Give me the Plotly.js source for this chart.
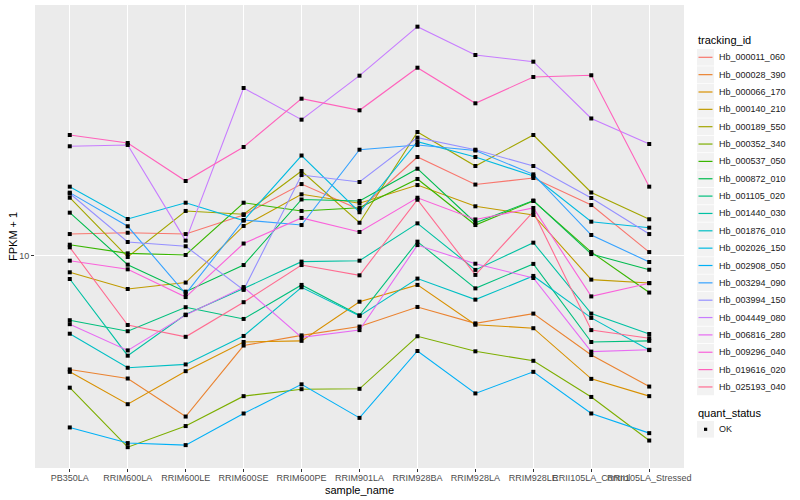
<!DOCTYPE html>
<html><head><meta charset="utf-8">
<script src="https://cdn.plot.ly/plotly-3.0.1.min.js"></script>
<style>html,body{margin:0;padding:0;background:#fff}#chart{width:800px;height:500px}</style>
</head><body><div id="chart"></div>
<script>
// ---- data ----
const samples = ['PB350LA','RRIM600LA','RRIM600LE','RRIM600SE','RRIM600PE','RRIM901LA','RRIM928BA','RRIM928LA','RRIM928LE','RRII105LA_Control','RRII105LA_Stressed'];
const trackingIds = ['Hb_000011_060','Hb_000028_390','Hb_000066_170','Hb_000140_210','Hb_000189_550','Hb_000352_340','Hb_000537_050','Hb_000872_010','Hb_001105_020','Hb_001440_030','Hb_001876_010','Hb_002026_150','Hb_002908_050','Hb_003294_090','Hb_003994_150','Hb_004449_080','Hb_006816_280','Hb_009296_040','Hb_019616_020','Hb_025193_040'];
const colors = ['#F8766D','#EA8331','#D89000','#C09B00','#A3A500','#7CAE00','#39B600','#00BB4E','#00BF7D','#00C1A3','#00BFC4','#00BAE0','#00B0F6','#35A2FF','#9590FF','#C77CFF','#E76BF3','#FA62DB','#FF62BC','#FF6C91'];
const quantStatus = ['OK'];
const yTickVals = [10];

const s000011_060 = [11.26, 11.34, 11.26, 12.50, 14.81, 12.88, 17.18, 14.77, 15.31, 13.20, 10.20];
const s000028_390 = [5.36, 5.10, 4.14, 6.11, 6.46, 6.78, 7.55, 6.90, 7.28, 5.80, 4.88];
const s000066_170 = [5.29, 4.43, 5.31, 6.23, 6.27, 7.77, 8.52, 6.85, 6.72, 5.09, 4.63];
const s000140_210 = [9.13, 8.33, 8.63, 11.77, 14.00, 13.33, 14.73, 13.11, 12.50, 8.77, 8.61];
const s000189_550 = [13.74, 9.93, 12.78, 12.55, 15.91, 11.98, 19.70, 16.35, 19.38, 14.14, 12.21];
const s000352_340 = [4.85, 3.50, 3.93, 4.63, 4.81, 4.82, 6.43, 5.92, 5.62, 4.61, 3.63];
const s000537_050 = [10.62, 10.13, 10.04, 13.37, 12.78, 13.01, 15.23, 11.83, 13.50, 10.20, 8.17];
const s000872_010 = [12.66, 9.52, 8.21, 9.50, 13.61, 13.50, 16.11, 11.98, 13.53, 10.09, 9.26];
const s001105_020 = [7.02, 6.61, 7.54, 7.07, 8.52, 7.21, 10.80, 8.36, 9.56, 6.23, 6.27];
const s001440_030 = [8.80, 5.78, 7.24, 8.35, 9.68, 9.73, 11.94, 9.25, 10.74, 7.28, 6.51];
const s001876_010 = [6.52, 5.41, 5.51, 6.44, 8.41, 7.19, 8.82, 7.86, 8.95, 7.11, 5.96];
const s002026_150 = [14.60, 12.23, 13.37, 12.12, 17.32, 12.69, 18.68, 17.18, 15.48, 12.05, 11.66];
const s002908_050 = [3.90, 3.58, 3.54, 4.21, 4.94, 4.11, 5.93, 4.70, 5.29, 4.21, 3.78];
const s003294_090 = [14.13, 11.75, 8.11, 12.16, 11.83, 17.88, 18.35, 17.80, 15.62, 11.20, 9.66];
const s003994_150 = [14.06, 10.78, 10.53, 8.29, 15.56, 14.98, 19.10, 17.88, 16.35, 13.72, 11.26];
const s004449_080 = [18.22, 18.35, 10.86, 25.08, 21.08, 26.83, 35.10, 30.05, 28.97, 21.22, 18.45];
const s006816_280 = [6.87, 5.95, 7.22, 8.42, 6.39, 6.65, 10.60, 9.57, 8.85, 5.91, 5.97];
const s009296_040 = [9.73, 9.28, 7.97, 10.69, 12.30, 11.39, 13.74, 12.20, 12.99, 8.00, 8.60];
const s019616_020 = [19.38, 18.55, 15.06, 18.15, 23.65, 22.19, 28.03, 23.06, 26.64, 26.89, 14.60];
const s025193_040 = [10.47, 6.84, 6.41, 7.75, 9.50, 8.98, 13.59, 9.00, 12.73, 6.65, 6.36];

const seriesValues = [s000011_060, s000028_390, s000066_170, s000140_210, s000189_550, s000352_340, s000537_050, s000872_010, s001105_020, s001440_030, s001876_010, s002026_150, s002908_050, s003294_090, s003994_150, s004449_080, s006816_280, s009296_040, s019616_020, s025193_040];

// ---- geometry ----
const W = 800, H = 500, ML = 35, MR = 116, MT = 5, MB = 32;
const PW = W - ML - MR, PH = H - MT - MB;
const px = v => (v - ML) / PW;
const py = v => (H - MB - v) / PH;
const FONT = 'Liberation Sans, Arial, sans-serif';

const traces = [];
seriesValues.forEach((vals, i) => {
  traces.push({
    type: 'scatter', mode: 'lines', x: samples, y: vals, name: trackingIds[i],
    line: {color: colors[i], width: 1.1}, showlegend: false, hoverinfo: 'x+y+name'
  });
});
const allX = [], allY = [];
seriesValues.forEach(vals => vals.forEach((v, j) => { allX.push(samples[j]); allY.push(v); }));
traces.push({
  type: 'scatter', mode: 'markers', x: allX, y: allY, name: quantStatus[0],
  marker: {symbol: 'square', size: 4, color: '#000000'}, showlegend: false
});

// ---- custom ggplot-like legend and axis titles ----
const shapes = [], annotations = [];
annotations.push({xref:'paper', yref:'paper', x: 0.5, y: py(490), text:'sample_name', showarrow:false,
  xanchor:'center', yanchor:'middle', font:{family:FONT, size:11, color:'#000'}});
annotations.push({xref:'paper', yref:'paper', x: px(12.5), y: 0.5, text:'FPKM + 1', showarrow:false, textangle:-90,
  xanchor:'center', yanchor:'middle', font:{family:FONT, size:11, color:'#000'}});
annotations.push({xref:'paper', yref:'paper', x: px(696), y: py(40.5), text:'tracking_id', showarrow:false,
  xanchor:'left', yanchor:'middle', font:{family:FONT, size:11, color:'#000'}});
trackingIds.forEach((id, i) => {
  const yc = 57.3 + 17.35 * i;
  shapes.push({type:'rect', xref:'paper', yref:'paper', x0:px(697), x1:px(714), y0:py(yc-8.3), y1:py(yc+8.3),
    fillcolor:'#F2F2F2', line:{width:0}, layer:'above'});
  shapes.push({type:'line', xref:'paper', yref:'paper', x0:px(698.5), x1:px(712.5), y0:py(yc), y1:py(yc),
    line:{color:colors[i], width:1.2}, layer:'above'});
  annotations.push({xref:'paper', yref:'paper', x: px(716.5), y: py(yc), text:id, showarrow:false,
    xanchor:'left', yanchor:'middle', font:{family:FONT, size:9, color:'#1A1A1A'}});
});
annotations.push({xref:'paper', yref:'paper', x: px(696), y: py(412.5), text:'quant_status', showarrow:false,
  xanchor:'left', yanchor:'middle', font:{family:FONT, size:11, color:'#000'}});
shapes.push({type:'rect', xref:'paper', yref:'paper', x0:px(697), x1:px(714), y0:py(429.3-8.3), y1:py(429.3+8.3),
  fillcolor:'#F2F2F2', line:{width:0}, layer:'above'});
shapes.push({type:'rect', xref:'paper', yref:'paper', x0:px(704), x1:px(707.2), y0:py(427.7), y1:py(430.9),
  fillcolor:'#000', line:{width:0}, layer:'above'});
annotations.push({xref:'paper', yref:'paper', x: px(716.5), y: py(429.3), text:quantStatus[0], showarrow:false,
  xanchor:'left', yanchor:'middle', font:{family:FONT, size:9, color:'#1A1A1A'}});

const layout = {
  width: W, height: H,
  margin: {l: ML, r: MR, t: MT, b: MB, pad: 0},
  paper_bgcolor: '#FFFFFF', plot_bgcolor: '#EBEBEB',
  font: {family: FONT, size: 9, color: '#4D4D4D'},
  showlegend: false,
  xaxis: {
    type: 'category', categoryorder: 'array', categoryarray: samples,
    range: [-0.6, samples.length - 0.4], autorange: false,
    showgrid: true, gridcolor: '#FFFFFF', gridwidth: 1.1, zeroline: false, showline: false,
    ticks: 'outside', ticklen: 3, tickwidth: 1, tickcolor: '#333333', tickangle: 0,
    ticklabelstandoff: -2,
    tickfont: {family: FONT, size: 9, color: '#4D4D4D'},
    automargin: false
  },
  yaxis: {
    type: 'log', range: [0.4945, 1.5969], autorange: false,
    tickvals: yTickVals, ticktext: yTickVals.map(String),
    showgrid: true, gridcolor: '#FFFFFF', gridwidth: 1.1, zeroline: false, showline: false,
    ticks: 'outside', ticklen: 3, tickwidth: 1, tickcolor: '#333333',
    tickfont: {family: FONT, size: 9, color: '#4D4D4D'},
    automargin: false
  },
  shapes: shapes, annotations: annotations
};

Plotly.newPlot('chart', traces, layout, {displayModeBar: false, staticPlot: true});
</script></body></html>
